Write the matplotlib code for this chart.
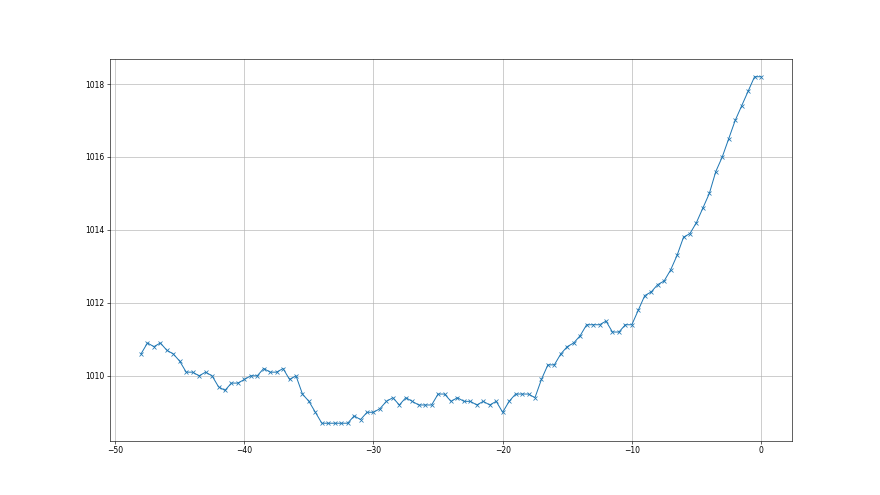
import numpy as np
import matplotlib
matplotlib.use("Agg")
import matplotlib.pyplot as plt

# hours before now, pressure in hPa
hours = np.arange(-48, 0.5, 0.5)

pressure = [
    1010.6, 1010.9, 1010.8, 1010.9, 1010.7, 1010.6, 1010.4, 1010.1, 1010.1, 1010.0,  # -48 .. -43.5
    1010.1, 1010.0, 1009.7, 1009.6, 1009.8, 1009.8, 1009.9, 1010.0, 1010.0, 1010.2,  # -43 .. -38.5
    1010.1, 1010.1, 1010.2, 1009.9, 1010.0, 1009.5, 1009.3, 1009.0, 1008.7, 1008.7,  # -38 .. -33.5
    1008.7, 1008.7, 1008.7, 1008.9, 1008.8, 1009.0, 1009.0, 1009.1, 1009.3, 1009.4,  # -33 .. -28.5
    1009.2, 1009.4, 1009.3, 1009.2, 1009.2, 1009.2, 1009.5, 1009.5, 1009.3, 1009.4,  # -28 .. -23.5
    1009.3, 1009.3, 1009.2, 1009.3, 1009.2, 1009.3, 1009.0, 1009.3, 1009.5, 1009.5,  # -23 .. -18.5
    1009.5, 1009.4, 1009.9, 1010.3, 1010.3, 1010.6, 1010.8, 1010.9, 1011.1, 1011.4,  # -18 .. -13.5
    1011.4, 1011.4, 1011.5, 1011.2, 1011.2, 1011.4, 1011.4, 1011.8, 1012.2, 1012.3,  # -13 .. -8.5
    1012.5, 1012.6, 1012.9, 1013.3, 1013.8, 1013.9, 1014.2, 1014.6, 1015.0, 1015.6,  # -8 .. -3.5
    1016.0, 1016.5, 1017.0, 1017.4, 1017.8, 1018.2, 1018.2,                          # -3 .. 0
]

fig = plt.figure(figsize=(16, 9), dpi=55)
ax = fig.add_subplot(111)
ax.plot(hours, pressure, marker="x", color="#1f77b4", linewidth=1.3, markersize=5)
ax.grid(True)
ax.tick_params(labelsize=10)

fig.savefig("out.png", dpi=55)
